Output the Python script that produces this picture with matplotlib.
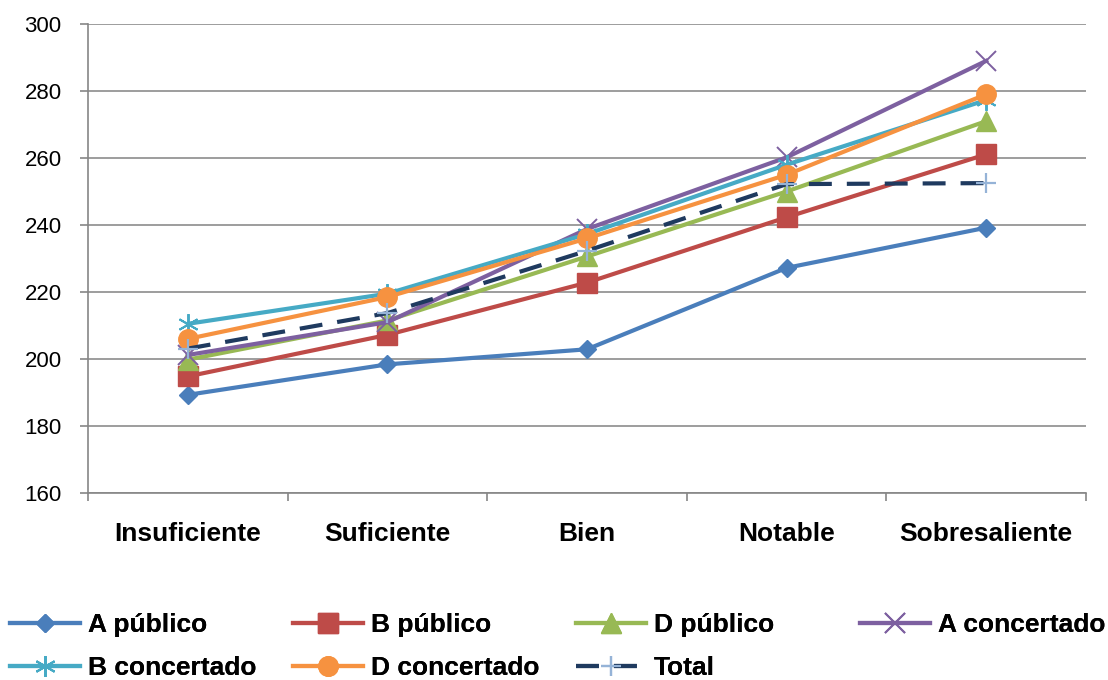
import numpy as np
import matplotlib
matplotlib.use("Agg")
from matplotlib import pyplot as plt
from matplotlib.lines import Line2D

# datos
categorias = ['Insuficiente', 'Suficiente', 'Bien', 'Notable', 'Sobresaliente']
a_publico = [189.3, 198.4, 202.9, 227.2, 239.2]
b_publico = [194.8, 207.2, 222.8, 242.3, 261.1]
d_publico = [199.8, 211.5, 230.6, 250.0, 271.0]
a_concertado = [201.2, 211.0, 238.8, 260.2, 289.0]
b_concertado = [210.5, 219.5, 237.3, 258.0, 277.3]
d_concertado = [206.0, 218.5, 236.0, 255.0, 279.0]
total = [203.1, 213.7, 232.3, 252.2, 252.5]

series = [
    ('A público', a_publico, '#4A7EBB', 'D', 9.5, None),
    ('B público', b_publico, '#BE4B48', 's', 14, None),
    ('D público', d_publico, '#98B954', '^', 14, None),
    ('A concertado', a_concertado, '#7D60A0', 'x', 14, None),
    ('B concertado', b_concertado, '#46AAC5', (6, 2, 0), 15, None),
    ('D concertado', d_concertado, '#F69240', 'o', 14, None),
    ('Total', total, '#1F3A5F', '+', 15, '#95B3D7'),
]

plt.rcParams['font.family'] = ['Liberation Sans', 'DejaVu Sans']

fig = plt.figure(figsize=(11.08, 6.8), dpi=100)
W, H = 1108, 680
ax = fig.add_axes([88 / W, (H - 493) / H, (1086 - 88) / W, (493 - 24) / H])

x = np.arange(len(categorias))
handles = []
for nombre, vals, color, marker, ms, mcolor in series:
    if nombre == 'Total':
        ln, = ax.plot(x, vals, color=color, lw=3, marker=marker, ms=ms,
                      mec=mcolor, mew=1.6, dash_capstyle='butt', zorder=5)
        ln.set_dashes((5.5, 3.6))
    elif marker in ('x',) or isinstance(marker, tuple):
        ln, = ax.plot(x, vals, color=color, lw=3, marker=marker, ms=ms,
                      mec=color, mew=1.4, zorder=3)
    else:
        ln, = ax.plot(x, vals, color=color, lw=3, marker=marker, ms=ms,
                      mfc=color, mec=color, zorder=3)
    handles.append(ln)

ax.set_xlim(-0.5, len(categorias) - 0.5)
ax.set_ylim(160, 300)
ax.set_yticks(np.arange(160, 301, 20))
ax.set_xticks(x)
ax.set_xticklabels(categorias, fontsize=19, fontweight='bold')
ax.set_xticks(np.arange(-0.5, len(categorias)), minor=True)
ax.tick_params(axis='x', which='major', length=0, pad=21)
ax.tick_params(axis='x', which='minor', length=6, color='#868686', width=1.2)
ax.tick_params(axis='y', length=6, color='#868686', width=1.2, pad=13, labelsize=16)
ax.yaxis.grid(True, color='#8C8C8C', lw=1.2)
ax.set_axisbelow(True)
for s in ['top', 'right']:
    ax.spines[s].set_visible(False)
for s in ['left', 'bottom']:
    ax.spines[s].set_color('#868686')
    ax.spines[s].set_linewidth(1.2)

# leyenda, una entrada por posición
pos_x = [10, 293, 576, 860, 10, 293, 576]
pos_y = [625, 625, 625, 625, 668, 668, 668]
for h, (nombre, *_), px, py in zip(handles, series, pos_x, pos_y):
    leg = fig.legend([h], [nombre], loc='center left',
                     bbox_to_anchor=(px / W, 1 - py / H), frameon=False,
                     borderpad=0, borderaxespad=0, handlelength=2.65,
                     handletextpad=0.3, numpoints=1,
                     prop={'size': 19, 'weight': 'bold'})
    fig.add_artist(leg)

fig.savefig('out.png', dpi=100)
